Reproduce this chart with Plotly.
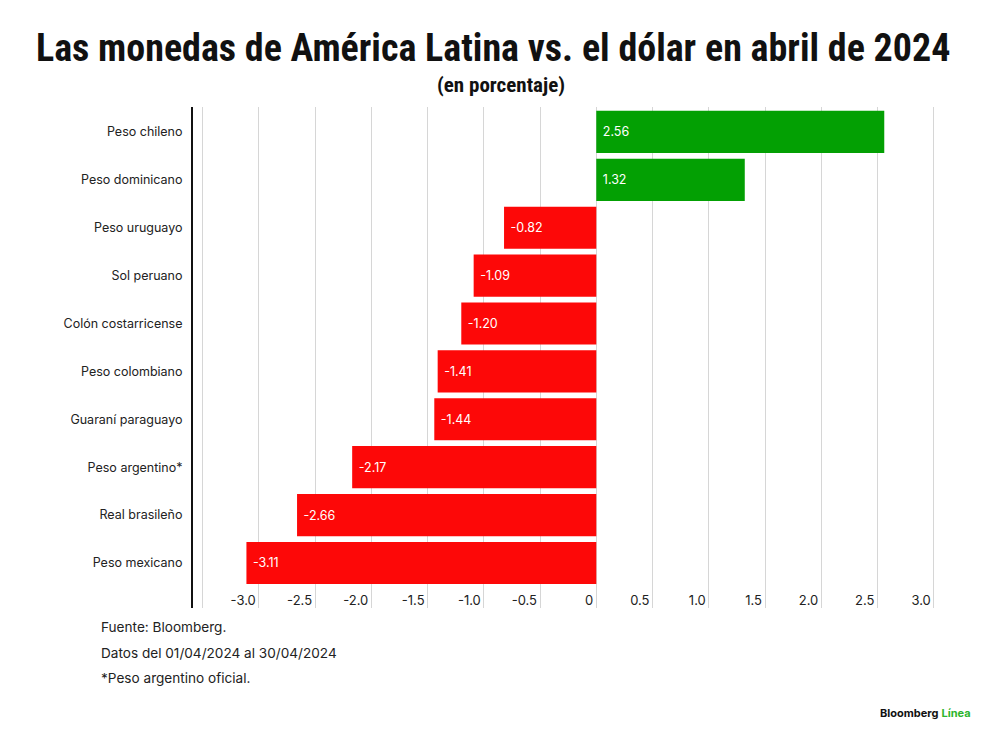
import plotly.graph_objects as go

# datos: variación de las monedas frente al dólar, abril 2024 (%)
monedas = [
    "Peso chileno",
    "Peso dominicano",
    "Peso uruguayo",
    "Sol peruano",
    "Colón costarricense",
    "Peso colombiano",
    "Guaraní paraguayo",
    "Peso argentino*",
    "Real brasileño",
    "Peso mexicano",
]
variacion = [2.56, 1.32, -0.82, -1.09, -1.20, -1.41, -1.44, -2.17, -2.66, -3.11]

tick_vals = [-3.5, -3.0, -2.5, -2.0, -1.5, -1.0, -0.5, 0, 0.5, 1.0, 1.5, 2.0, 2.5, 3.0]
tick_text = ["", "-3.0", "-2.5", "-2.0", "-1.5", "-1.0", "-0.5", "0", "0.5", "1.0", "1.5", "2.0", "2.5", "3.0"]

notas = [
    "Fuente: Bloomberg.",
    "Datos del 01/04/2024 al 30/04/2024",
    "*Peso argentino oficial.",
]

VERDE = "#03A003"
ROJO = "#FD0808"
FUENTE = "Liberation Sans Narrow, Roboto Condensed, Arial Narrow, Liberation Sans, sans-serif"
FUENTE_TXT = "Inter, Roboto, Liberation Sans, sans-serif"

# la página tiene 8px de margen en el body
OFF = 8
W, H = 1000 - 2 * OFF, 741 - 2 * OFF
M_L, M_T = 193 - OFF, 107 - OFF
M_R, M_B = W - (945 - OFF), H - (608 - OFF)


def py(pix):
    # pixel de la página -> coordenada paper
    return (H - M_B - (pix - OFF)) / (H - M_T - M_B)


def px(pix):
    return ((pix - OFF) - M_L) / (W - M_L - M_R)


pos = [(m, v) for m, v in zip(monedas, variacion) if v >= 0]
neg = [(m, v) for m, v in zip(monedas, variacion) if v < 0]

fig = go.Figure()

fig.add_trace(go.Bar(
    y=[m for m, v in pos],
    x=[v for m, v in pos],
    orientation="h",
    marker=dict(color=VERDE, line=dict(width=0)),
    text=[f"&nbsp;{v:.2f}" for m, v in pos],
    textposition="inside",
    insidetextanchor="start",
    textfont=dict(color="white", size=12.5, family=FUENTE_TXT),
))
fig.add_trace(go.Bar(
    y=[m for m, v in neg],
    x=[v for m, v in neg],
    orientation="h",
    marker=dict(color=ROJO, line=dict(width=0)),
    text=[f"&nbsp;{v:.2f}" for m, v in neg],
    textposition="inside",
    insidetextanchor="end",
    textfont=dict(color="white", size=12.5, family=FUENTE_TXT),
))

annotations = []
# titulo y subtitulo
annotations.append(dict(
    text="<b>Las monedas de América Latina vs. el dólar en abril de 2024</b>",
    xref="paper", yref="paper", x=px(493), y=py(48), xanchor="center", yanchor="middle",
    showarrow=False, font=dict(size=38, color="#111111", family=FUENTE),
))
annotations.append(dict(
    text="<b>(en porcentaje)</b>",
    xref="paper", yref="paper", x=px(501), y=py(85), xanchor="center", yanchor="middle",
    showarrow=False, font=dict(size=21, color="#111111", family=FUENTE),
))
# notas al pie
for i, nota in enumerate(notas):
    annotations.append(dict(
        text=nota, xref="paper", yref="paper", x=px(99), y=py(627 + 25.5 * i),
        xanchor="left", yanchor="middle", showarrow=False,
        font=dict(size=13.6, color="#222222", family=FUENTE_TXT),
    ))
# logo
annotations.append(dict(
    text="<b>Bloomberg</b> <span style='color:#2DB52D'><b>Línea</b></span>",
    xref="paper", yref="paper", x=px(973), y=py(713), xanchor="right", yanchor="middle",
    showarrow=False, font=dict(size=11, color="#111111", family=FUENTE_TXT),
))

fig.update_layout(
    width=W, height=H,
    margin=dict(l=M_L, r=M_R, t=M_T, b=M_B),
    paper_bgcolor="white", plot_bgcolor="white",
    showlegend=False,
    barmode="relative",
    bargap=0.12,
    uniformtext=dict(minsize=12, mode="show"),
    font=dict(family=FUENTE_TXT, color="#222222"),
    annotations=annotations,
)
fig.update_xaxes(
    range=[-3.585, 3.1],
    tickvals=tick_vals, ticktext=tick_text,
    ticklabelposition="inside left",
    ticklabelstandoff=-6, ticklabelshift=-3,
    tickfont=dict(size=13, color="#222222", family=FUENTE_TXT),
    showgrid=True, gridcolor="#D6D6D6", gridwidth=1,
    zeroline=False, showline=False, ticks="",
)
fig.update_yaxes(
    categoryorder="array", categoryarray=monedas,
    range=[len(monedas) - 1 + 0.94, -0.52],
    tickfont=dict(size=12.5, color="#222222", family=FUENTE_TXT),
    showline=True, linecolor="#111111", linewidth=2,
    showgrid=False, zeroline=False, ticks="", ticklabelstandoff=6,
)

fig.write_html("out.html")
